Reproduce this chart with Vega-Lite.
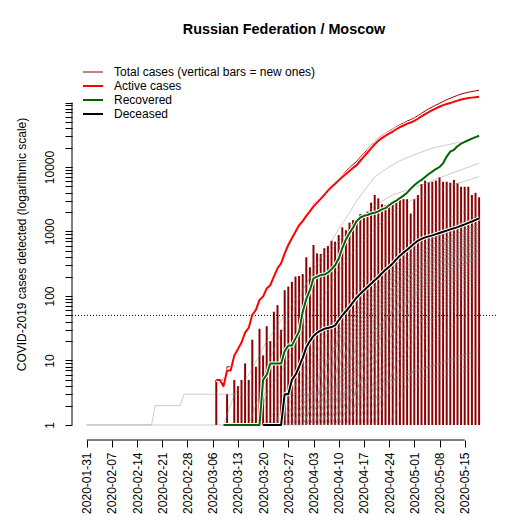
{
"$schema": "https://vega.github.io/schema/vega-lite/v6.json",
"width": 424,
"height": 392,
"autosize": {"type": "none"},
"padding": {"left": 72, "top": 48, "right": 29, "bottom": 85},
"background": "white",
"title": {"text": "Russian Federation / Moscow", "fontSize": 14.4, "fontWeight": "bold", "font": "Liberation Sans", "color": "black", "anchor": "middle", "frame": "group", "offset": 0, "baseline": "alphabetic"},
"config": {"view": {"stroke": null}, "font": "Liberation Sans"},
"datasets": {
"main": [
{"d":"2020-03-07","t":5,"a":5,"n":5},
{"d":"2020-03-08","t":5,"a":5},
{"d":"2020-03-09","t":5,"a":4,"r":1},
{"d":"2020-03-10","t":8,"a":7,"r":1,"n":3},
{"d":"2020-03-11","t":8,"a":7,"r":1},
{"d":"2020-03-12","t":13,"a":12,"r":1,"n":5},
{"d":"2020-03-13","t":16,"a":15,"r":1,"n":4},
{"d":"2020-03-14","t":20,"a":19,"r":1,"n":5},
{"d":"2020-03-15","t":28,"a":27,"r":1,"n":9},
{"d":"2020-03-16","t":33,"a":32,"r":1,"n":5},
{"d":"2020-03-17","t":52,"a":51,"r":1,"n":21},
{"d":"2020-03-18","t":62,"a":61,"r":1,"n":8},
{"d":"2020-03-19","t":88,"a":87,"r":1,"n":31},
{"d":"2020-03-20","t":104,"a":98,"r":5,"k":1,"n":12},
{"d":"2020-03-21","t":138,"a":131,"r":6,"k":1,"n":34},
{"d":"2020-03-22","t":157,"a":147,"r":9,"k":1,"n":20},
{"d":"2020-03-23","t":209,"a":199,"r":9,"k":1,"n":57},
{"d":"2020-03-24","t":279,"a":269,"r":9,"k":1,"n":72},
{"d":"2020-03-25","t":331,"a":321,"r":9,"k":1,"n":30},
{"d":"2020-03-26","t":476,"a":459,"r":14,"k":3,"n":123},
{"d":"2020-03-27","t":638,"a":617,"r":17,"k":3,"n":140},
{"d":"2020-03-28","t":807,"a":784,"r":17,"k":5,"n":166},
{"d":"2020-03-29","t":1021,"a":993,"r":22,"k":6,"n":200},
{"d":"2020-03-30","t":1286,"a":1250,"r":28,"k":8,"n":204},
{"d":"2020-03-31","t":1518,"a":1450,"r":57,"k":11,"n":219},
{"d":"2020-04-01","t":1856,"a":1750,"r":90,"k":16,"n":398},
{"d":"2020-04-02","t":2193,"a":2050,"r":123,"k":20,"n":279},
{"d":"2020-04-03","t":2662,"a":2450,"r":188,"k":24,"n":617},
{"d":"2020-04-04","t":3027,"a":2800,"r":200,"k":27,"n":458},
{"d":"2020-04-05","t":3440,"a":3200,"r":211,"k":29,"n":448},
{"d":"2020-04-06","t":3946,"a":3700,"r":215,"k":31,"n":550},
{"d":"2020-04-07","t":4562,"a":4300,"r":230,"k":32,"n":596},
{"d":"2020-04-08","t":5193,"a":4900,"r":260,"k":33,"n":720},
{"d":"2020-04-09","t":5835,"a":5500,"r":300,"k":35,"n":695},
{"d":"2020-04-10","t":6622,"a":6200,"r":380,"k":42,"n":883},
{"d":"2020-04-11","t":7600,"a":7000,"r":550,"k":50,"n":1160},
{"d":"2020-04-12","t":8608,"a":7800,"r":750,"k":58,"n":1050},
{"d":"2020-04-13","t":9718,"a":8700,"r":950,"k":68,"n":1370},
{"d":"2020-04-14","t":10930,"a":9700,"r":1150,"k":80,"n":1500},
{"d":"2020-04-15","t":12245,"a":10700,"r":1450,"k":95,"n":1545},
{"d":"2020-04-16","t":14258,"a":12500,"r":1650,"k":108,"n":1870},
{"d":"2020-04-17","t":16372,"a":14500,"r":1750,"k":122,"n":1740},
{"d":"2020-04-18","t":18738,"a":16800,"r":1800,"k":138,"n":2030},
{"d":"2020-04-19","t":21555,"a":19500,"r":1900,"k":155,"n":2800},
{"d":"2020-04-20","t":24625,"a":22500,"r":1950,"k":175,"n":3680},
{"d":"2020-04-21","t":27745,"a":25500,"r":2050,"k":195,"n":3270},
{"d":"2020-04-22","t":30425,"a":28000,"r":2200,"k":225,"n":2650},
{"d":"2020-04-23","t":33055,"a":30500,"r":2300,"k":255,"n":2560},
{"d":"2020-04-24","t":35835,"a":33000,"r":2550,"k":285,"n":2700},
{"d":"2020-04-25","t":38620,"a":35500,"r":2800,"k":320,"n":2740},
{"d":"2020-04-26","t":41870,"a":38500,"r":3000,"k":370,"n":2900},
{"d":"2020-04-27","t":45220,"a":41500,"r":3300,"k":420,"n":3090},
{"d":"2020-04-28","t":48070,"a":44000,"r":3600,"k":470,"n":3170},
{"d":"2020-04-29","t":51520,"a":47000,"r":4000,"k":520,"n":3170},
{"d":"2020-04-30","t":54180,"a":49000,"r":4600,"k":580,"n":1900},
{"d":"2020-05-01","t":57850,"a":52000,"r":5200,"k":650,"n":3170},
{"d":"2020-05-02","t":62520,"a":56000,"r":5800,"k":720,"n":3680},
{"d":"2020-05-03","t":68070,"a":61000,"r":6300,"k":770,"n":5450},
{"d":"2020-05-04","t":73810,"a":66000,"r":7000,"k":810,"n":6150},
{"d":"2020-05-05","t":79640,"a":71000,"r":7800,"k":840,"n":5770},
{"d":"2020-05-06","t":85370,"a":76000,"r":8500,"k":870,"n":5900},
{"d":"2020-05-07","t":91210,"a":81000,"r":9300,"k":910,"n":6150},
{"d":"2020-05-08","t":96950,"a":86000,"r":10000,"k":950,"n":6900},
{"d":"2020-05-09","t":103390,"a":91000,"r":11400,"k":990,"n":5900},
{"d":"2020-05-10","t":110530,"a":95000,"r":14500,"k":1030,"n":5900},
{"d":"2020-05-11","t":116380,"a":98000,"r":17300,"k":1080,"n":5710},
{"d":"2020-05-12","t":122620,"a":103000,"r":18500,"k":1120,"n":6300},
{"d":"2020-05-13","t":129170,"a":107000,"r":21000,"k":1170,"n":5590},
{"d":"2020-05-14","t":135230,"a":111000,"r":23000,"k":1230,"n":4940},
{"d":"2020-05-15","t":139790,"a":114000,"r":24500,"k":1290,"n":4940},
{"d":"2020-05-16","t":144360,"a":117000,"r":26000,"k":1360,"n":4940},
{"d":"2020-05-17","t":147930,"a":119000,"r":27500,"k":1430,"n":3680},
{"d":"2020-05-18","t":151510,"a":121000,"r":29000,"k":1510,"n":3980},
{"d":"2020-05-19","t":155100,"a":123000,"r":30500,"k":1600,"n":3390}
],
"regions": [
{"g":"E1","d":"2020-01-31","v":1},{"g":"E1","d":"2020-03-16","v":1},{"g":"E1","d":"2020-03-31","v":1},{"g":"E1","d":"2020-04-15","v":2},{"g":"E1","d":"2020-04-30","v":4},{"g":"E1","d":"2020-05-19","v":8},
{"g":"E2","d":"2020-01-31","v":1},{"g":"E2","d":"2020-02-18","v":1},{"g":"E2","d":"2020-02-19","v":2},{"g":"E2","d":"2020-02-26","v":2},{"g":"E2","d":"2020-02-27","v":3},{"g":"E2","d":"2020-04-10","v":3},{"g":"E2","d":"2020-04-25","v":5},{"g":"E2","d":"2020-05-10","v":10},{"g":"E2","d":"2020-05-19","v":14},
{"g":"MO","d":"2020-03-16","v":1},{"g":"MO","d":"2020-03-19","v":3},{"g":"MO","d":"2020-03-21","v":8},{"g":"MO","d":"2020-03-24","v":20},{"g":"MO","d":"2020-03-26","v":35},{"g":"MO","d":"2020-03-29","v":70},{"g":"MO","d":"2020-03-31","v":120},{"g":"MO","d":"2020-04-03","v":250},{"g":"MO","d":"2020-04-05","v":400},{"g":"MO","d":"2020-04-08","v":700},{"g":"MO","d":"2020-04-10","v":1100},{"g":"MO","d":"2020-04-12","v":1600},{"g":"MO","d":"2020-04-15","v":3000},{"g":"MO","d":"2020-04-18","v":5000},{"g":"MO","d":"2020-04-20","v":7000},{"g":"MO","d":"2020-04-24","v":10000},{"g":"MO","d":"2020-04-27","v":12500},{"g":"MO","d":"2020-05-01","v":15500},{"g":"MO","d":"2020-05-06","v":19600},{"g":"MO","d":"2020-05-10","v":22000},{"g":"MO","d":"2020-05-14","v":24500},{"g":"MO","d":"2020-05-19","v":28000},
{"g":"SP","d":"2020-03-09","v":1},{"g":"SP","d":"2020-03-12","v":3},{"g":"SP","d":"2020-03-16","v":6},{"g":"SP","d":"2020-03-19","v":12},{"g":"SP","d":"2020-03-21","v":20},{"g":"SP","d":"2020-03-26","v":50},{"g":"SP","d":"2020-03-31","v":130},{"g":"SP","d":"2020-04-05","v":330},{"g":"SP","d":"2020-04-10","v":700},{"g":"SP","d":"2020-04-15","v":1400},{"g":"SP","d":"2020-04-20","v":2500},{"g":"SP","d":"2020-04-25","v":3700},{"g":"SP","d":"2020-04-30","v":4600},{"g":"SP","d":"2020-05-05","v":5800},{"g":"SP","d":"2020-05-10","v":7500},{"g":"SP","d":"2020-05-15","v":9500},{"g":"SP","d":"2020-05-19","v":11400},
{"g":"NN","d":"2020-03-18","v":1},{"g":"NN","d":"2020-03-21","v":3},{"g":"NN","d":"2020-03-26","v":8},{"g":"NN","d":"2020-03-31","v":30},{"g":"NN","d":"2020-04-05","v":80},{"g":"NN","d":"2020-04-10","v":250},{"g":"NN","d":"2020-04-15","v":550},{"g":"NN","d":"2020-04-20","v":1100},{"g":"NN","d":"2020-04-25","v":2000},{"g":"NN","d":"2020-04-30","v":3000},{"g":"NN","d":"2020-05-05","v":4000},{"g":"NN","d":"2020-05-10","v":5000},{"g":"NN","d":"2020-05-15","v":6000},{"g":"NN","d":"2020-05-19","v":7100},
{"g":"h1","d":"2020-03-21","v":1},{"g":"h1","d":"2020-03-31","v":2},{"g":"h1","d":"2020-04-15","v":3},{"g":"h1","d":"2020-04-30","v":5},{"g":"h1","d":"2020-05-19","v":9},
{"g":"h2","d":"2020-03-26","v":1},{"g":"h2","d":"2020-04-05","v":2},{"g":"h2","d":"2020-04-20","v":4},{"g":"h2","d":"2020-05-05","v":8},{"g":"h2","d":"2020-05-19","v":15},
{"g":"h3","d":"2020-03-23","v":1},{"g":"h3","d":"2020-03-29","v":2},{"g":"h3","d":"2020-04-02","v":3},{"g":"h3","d":"2020-04-10","v":4},{"g":"h3","d":"2020-04-25","v":6},{"g":"h3","d":"2020-05-19","v":12},
{"g":"a","d":"2020-03-21","v":1},{"g":"a","d":"2020-04-05","v":34},{"g":"a","d":"2020-04-20","v":280},{"g":"a","d":"2020-05-04","v":1143},{"g":"a","d":"2020-05-19","v":2500},
{"g":"b","d":"2020-03-23","v":1},{"g":"b","d":"2020-04-06","v":29},{"g":"b","d":"2020-04-21","v":221},{"g":"b","d":"2020-05-05","v":851},{"g":"b","d":"2020-05-19","v":1800},
{"g":"c","d":"2020-03-24","v":1},{"g":"c","d":"2020-04-07","v":27},{"g":"c","d":"2020-04-21","v":194},{"g":"c","d":"2020-05-05","v":722},{"g":"c","d":"2020-05-19","v":1500},
{"g":"d","d":"2020-03-26","v":1},{"g":"d","d":"2020-04-09","v":25},{"g":"d","d":"2020-04-22","v":175},{"g":"d","d":"2020-05-06","v":635},{"g":"d","d":"2020-05-19","v":1300},
{"g":"e","d":"2020-03-27","v":1},{"g":"e","d":"2020-04-09","v":23},{"g":"e","d":"2020-04-23","v":155},{"g":"e","d":"2020-05-06","v":546},{"g":"e","d":"2020-05-19","v":1100},
{"g":"f","d":"2020-03-28","v":1},{"g":"f","d":"2020-04-10","v":22},{"g":"f","d":"2020-04-23","v":139},{"g":"f","d":"2020-05-06","v":479},{"g":"f","d":"2020-05-19","v":950},
{"g":"g","d":"2020-03-29","v":1},{"g":"g","d":"2020-04-11","v":28},{"g":"g","d":"2020-04-24","v":203},{"g":"g","d":"2020-05-06","v":765},{"g":"g","d":"2020-05-19","v":1600},
{"g":"h","d":"2020-03-30","v":1},{"g":"h","d":"2020-04-12","v":20},{"g":"h","d":"2020-04-24","v":123},{"g":"h","d":"2020-05-07","v":410},{"g":"h","d":"2020-05-19","v":800},
{"g":"i","d":"2020-03-31","v":1},{"g":"i","d":"2020-04-12","v":19},{"g":"i","d":"2020-04-25","v":112},{"g":"i","d":"2020-05-07","v":364},{"g":"i","d":"2020-05-19","v":700},
{"g":"j","d":"2020-03-31","v":1},{"g":"j","d":"2020-04-12","v":24},{"g":"j","d":"2020-04-25","v":165},{"g":"j","d":"2020-05-07","v":590},{"g":"j","d":"2020-05-19","v":1200},
{"g":"k","d":"2020-04-01","v":1},{"g":"k","d":"2020-04-13","v":18},{"g":"k","d":"2020-04-25","v":100},{"g":"k","d":"2020-05-07","v":316},{"g":"k","d":"2020-05-19","v":600},
{"g":"l","d":"2020-04-02","v":1},{"g":"l","d":"2020-04-14","v":21},{"g":"l","d":"2020-04-26","v":134},{"g":"l","d":"2020-05-07","v":456},{"g":"l","d":"2020-05-19","v":900},
{"g":"m","d":"2020-04-03","v":1},{"g":"m","d":"2020-04-15","v":16},{"g":"m","d":"2020-04-26","v":88},{"g":"m","d":"2020-05-08","v":269},{"g":"m","d":"2020-05-19","v":500},
{"g":"n","d":"2020-04-04","v":1},{"g":"n","d":"2020-04-15","v":18},{"g":"n","d":"2020-04-27","v":106},{"g":"n","d":"2020-05-08","v":340},{"g":"n","d":"2020-05-19","v":650},
{"g":"o","d":"2020-04-05","v":1},{"g":"o","d":"2020-04-16","v":16},{"g":"o","d":"2020-04-27","v":81},{"g":"o","d":"2020-05-08","v":244},{"g":"o","d":"2020-05-19","v":450},
{"g":"p","d":"2020-04-06","v":1},{"g":"p","d":"2020-04-17","v":14},{"g":"p","d":"2020-04-28","v":72},{"g":"p","d":"2020-05-08","v":210},{"g":"p","d":"2020-05-19","v":380},
{"g":"q","d":"2020-04-07","v":1},{"g":"q","d":"2020-04-18","v":17},{"g":"q","d":"2020-04-28","v":94},{"g":"q","d":"2020-05-09","v":292},{"g":"q","d":"2020-05-19","v":550},
{"g":"r","d":"2020-04-08","v":1},{"g":"r","d":"2020-04-18","v":13},{"g":"r","d":"2020-04-29","v":61},{"g":"r","d":"2020-05-09","v":169},{"g":"r","d":"2020-05-19","v":300},
{"g":"s","d":"2020-04-09","v":1},{"g":"s","d":"2020-04-19","v":15},{"g":"s","d":"2020-04-29","v":77},{"g":"s","d":"2020-05-09","v":230},{"g":"s","d":"2020-05-19","v":420},
{"g":"t","d":"2020-04-10","v":1},{"g":"t","d":"2020-04-20","v":12},{"g":"t","d":"2020-04-30","v":53},{"g":"t","d":"2020-05-09","v":144},{"g":"t","d":"2020-05-19","v":250},
{"g":"u","d":"2020-04-12","v":1},{"g":"u","d":"2020-04-21","v":14},{"g":"u","d":"2020-05-01","v":65},{"g":"u","d":"2020-05-10","v":185},{"g":"u","d":"2020-05-19","v":330},
{"g":"v","d":"2020-04-14","v":1},{"g":"v","d":"2020-04-23","v":11},{"g":"v","d":"2020-05-02","v":45},{"g":"v","d":"2020-05-10","v":118},{"g":"v","d":"2020-05-19","v":200},
{"g":"w","d":"2020-04-16","v":1},{"g":"w","d":"2020-04-24","v":10},{"g":"w","d":"2020-05-02","v":37},{"g":"w","d":"2020-05-11","v":91},{"g":"w","d":"2020-05-19","v":150},
{"g":"x","d":"2020-04-18","v":1},{"g":"x","d":"2020-04-26","v":9},{"g":"x","d":"2020-05-04","v":31},{"g":"x","d":"2020-05-11","v":74},{"g":"x","d":"2020-05-19","v":120},
{"g":"y","d":"2020-04-20","v":1},{"g":"y","d":"2020-04-27","v":8},{"g":"y","d":"2020-05-05","v":26},{"g":"y","d":"2020-05-12","v":57},{"g":"y","d":"2020-05-19","v":90},
{"g":"z","d":"2020-04-24","v":1},{"g":"z","d":"2020-04-30","v":6},{"g":"z","d":"2020-05-06","v":19},{"g":"z","d":"2020-05-13","v":40},{"g":"z","d":"2020-05-19","v":60},
{"g":"aa","d":"2020-03-25","v":1},{"g":"aa","d":"2020-04-08","v":22},{"g":"aa","d":"2020-04-21","v":145},{"g":"aa","d":"2020-05-05","v":501},{"g":"aa","d":"2020-05-19","v":1000},
{"g":"ab","d":"2020-03-28","v":1},{"g":"ab","d":"2020-04-10","v":19},{"g":"ab","d":"2020-04-23","v":112},{"g":"ab","d":"2020-05-06","v":364},{"g":"ab","d":"2020-05-19","v":700},
{"g":"ac","d":"2020-03-29","v":1},{"g":"ac","d":"2020-04-11","v":25},{"g":"ac","d":"2020-04-24","v":175},{"g":"ac","d":"2020-05-06","v":635},{"g":"ac","d":"2020-05-19","v":1300},
{"g":"ad","d":"2020-03-31","v":1},{"g":"ad","d":"2020-04-12","v":21},{"g":"ad","d":"2020-04-25","v":134},{"g":"ad","d":"2020-05-07","v":456},{"g":"ad","d":"2020-05-19","v":900},
{"g":"ae","d":"2020-04-01","v":1},{"g":"ae","d":"2020-04-13","v":16},{"g":"ae","d":"2020-04-25","v":88},{"g":"ae","d":"2020-05-07","v":269},{"g":"ae","d":"2020-05-19","v":500},
{"g":"af","d":"2020-04-02","v":1},{"g":"af","d":"2020-04-14","v":23},{"g":"af","d":"2020-04-26","v":155},{"g":"af","d":"2020-05-07","v":546},{"g":"af","d":"2020-05-19","v":1100},
{"g":"ag","d":"2020-04-03","v":1},{"g":"ag","d":"2020-04-15","v":20},{"g":"ag","d":"2020-04-26","v":117},{"g":"ag","d":"2020-05-08","v":387},{"g":"ag","d":"2020-05-19","v":750},
{"g":"ah","d":"2020-04-04","v":1},{"g":"ah","d":"2020-04-15","v":15},{"g":"ah","d":"2020-04-27","v":75},{"g":"ah","d":"2020-05-08","v":220},{"g":"ah","d":"2020-05-19","v":400},
{"g":"ai","d":"2020-04-05","v":1},{"g":"ai","d":"2020-04-16","v":21},{"g":"ai","d":"2020-04-27","v":129},{"g":"ai","d":"2020-05-08","v":433},{"g":"ai","d":"2020-05-19","v":850},
{"g":"aj","d":"2020-04-06","v":1},{"g":"aj","d":"2020-04-17","v":18},{"g":"aj","d":"2020-04-28","v":100},{"g":"aj","d":"2020-05-08","v":316},{"g":"aj","d":"2020-05-19","v":600},
{"g":"ak","d":"2020-04-07","v":1},{"g":"ak","d":"2020-04-18","v":14},{"g":"ak","d":"2020-04-28","v":68},{"g":"ak","d":"2020-05-09","v":195},{"g":"ak","d":"2020-05-19","v":350},
{"g":"al","d":"2020-04-08","v":1},{"g":"al","d":"2020-04-18","v":19},{"g":"al","d":"2020-04-29","v":112},{"g":"al","d":"2020-05-09","v":364},{"g":"al","d":"2020-05-19","v":700},
{"g":"am","d":"2020-04-09","v":1},{"g":"am","d":"2020-04-19","v":16},{"g":"am","d":"2020-04-29","v":85},{"g":"am","d":"2020-05-09","v":259},{"g":"am","d":"2020-05-19","v":480},
{"g":"an","d":"2020-04-10","v":1},{"g":"an","d":"2020-04-20","v":13},{"g":"an","d":"2020-04-30","v":58},{"g":"an","d":"2020-05-09","v":159},{"g":"an","d":"2020-05-19","v":280},
{"g":"ao","d":"2020-04-11","v":1},{"g":"ao","d":"2020-04-20","v":17},{"g":"ao","d":"2020-04-30","v":90},{"g":"ao","d":"2020-05-09","v":278},{"g":"ao","d":"2020-05-19","v":520},
{"g":"ap","d":"2020-04-12","v":1},{"g":"ap","d":"2020-04-21","v":11},{"g":"ap","d":"2020-05-01","v":49},{"g":"ap","d":"2020-05-10","v":128},{"g":"ap","d":"2020-05-19","v":220},
{"g":"aq","d":"2020-04-13","v":1},{"g":"aq","d":"2020-04-22","v":15},{"g":"aq","d":"2020-05-01","v":75},{"g":"aq","d":"2020-05-10","v":220},{"g":"aq","d":"2020-05-19","v":400},
{"g":"ar","d":"2020-04-15","v":1},{"g":"ar","d":"2020-04-24","v":12},{"g":"ar","d":"2020-05-02","v":55},{"g":"ar","d":"2020-05-10","v":149},{"g":"ar","d":"2020-05-19","v":260},
{"g":"as","d":"2020-04-17","v":1},{"g":"as","d":"2020-04-25","v":10},{"g":"as","d":"2020-05-03","v":42},{"g":"as","d":"2020-05-11","v":107},{"g":"as","d":"2020-05-19","v":180},
{"g":"at","d":"2020-04-19","v":1},{"g":"at","d":"2020-04-26","v":9},{"g":"at","d":"2020-05-04","v":35},{"g":"at","d":"2020-05-11","v":85},{"g":"at","d":"2020-05-19","v":140}
]
},
"layer": [
{"data": {"name": "main"},
 "mark": {"type": "rule", "stroke": "white", "strokeWidth": 3.2, "opacity": 0.5},
 "encoding": {
  "x": {"field": "d", "type": "temporal", "title": null,
        "scale": {"type": "utc", "domain": [{"year": 2020, "month": 1, "date": 26, "hours": 22, "utc": true}, {"year": 2020, "month": 5, "date": 23, "hours": 16, "minutes": 40, "utc": true}]},
        "axis": {"values": [
          {"year": 2020, "month": 1, "date": 31, "utc": true},
          {"year": 2020, "month": 2, "date": 7, "utc": true},
          {"year": 2020, "month": 2, "date": 14, "utc": true},
          {"year": 2020, "month": 2, "date": 21, "utc": true},
          {"year": 2020, "month": 2, "date": 28, "utc": true},
          {"year": 2020, "month": 3, "date": 6, "utc": true},
          {"year": 2020, "month": 3, "date": 13, "utc": true},
          {"year": 2020, "month": 3, "date": 20, "utc": true},
          {"year": 2020, "month": 3, "date": 27, "utc": true},
          {"year": 2020, "month": 4, "date": 3, "utc": true},
          {"year": 2020, "month": 4, "date": 10, "utc": true},
          {"year": 2020, "month": 4, "date": 17, "utc": true},
          {"year": 2020, "month": 4, "date": 24, "utc": true},
          {"year": 2020, "month": 5, "date": 1, "utc": true},
          {"year": 2020, "month": 5, "date": 8, "utc": true},
          {"year": 2020, "month": 5, "date": 15, "utc": true}],
          "tickCount": 100,
          "labelExpr": "utcFormat(datum.value, '%Y-%m-%d')",
          "labelAngle": 270, "labelAlign": "right", "labelBaseline": "middle",
          "labelPadding": 5, "tickSize": 7, "tickColor": "black", "domain": false, "grid": false,
          "labelFontSize": 12, "labelFont": "Liberation Sans", "labelColor": "black", "labelOverlap": false, "labelFlush": false, "labelBound": false, "title": null}},
  "y": {"field": "n", "type": "quantitative", "title": "COVID-2019 cases detected (logarithmic scale)",
        "scale": {"type": "log", "domain": [0.585, 700000], "nice": false},
        "axis": {"values": [1,2,3,4,5,6,7,8,9,10,20,30,40,50,60,70,80,90,100,200,300,400,500,600,700,800,900,1000,2000,3000,4000,5000,6000,7000,8000,9000,10000,20000,30000,40000,50000,60000,70000,80000,90000,100000],
          "tickCount": 100,
          "format": "d",
          "labelExpr": "(datum.value == 1 || datum.value == 10 || datum.value == 100 || datum.value == 1000 || datum.value == 10000) ? datum.label : ''",
          "labelAngle": 270, "labelAlign": "center", "labelBaseline": "bottom", "labelPadding": 9,
          "tickSize": 7, "tickColor": "black", "domain": false, "grid": false,
          "labelFontSize": 12, "labelFont": "Liberation Sans", "labelColor": "black", "labelOverlap": false, "labelBound": false, "labelFlush": false,
          "title": "COVID-2019 cases detected (logarithmic scale)", "titleFontSize": 12, "titleFont": "Liberation Sans", "titleFontWeight": "normal", "titleColor": "black", "titlePadding": 15}},
  "y2": {"datum": 1}}},
{"data": {"name": "main"},
 "mark": {"type": "rule", "stroke": "#8B0000", "strokeWidth": 2},
 "encoding": {
  "x": {"field": "d", "type": "temporal", "title": null},
  "y": {"field": "n", "type": "quantitative", "title": "COVID-2019 cases detected (logarithmic scale)"},
  "y2": {"datum": 1}}},
{"data": {"name": "regions"},
 "mark": {"type": "line", "stroke": "#808080", "strokeWidth": 1, "opacity": 0.4},
 "encoding": {
  "x": {"field": "d", "type": "temporal", "title": null},
  "y": {"field": "v", "type": "quantitative", "title": "COVID-2019 cases detected (logarithmic scale)"},
  "detail": {"field": "g", "type": "nominal"}}},
{"data": {"values": [{}]},
 "mark": {"type": "rule", "stroke": "black", "strokeWidth": 1, "strokeDash": [1, 2]},
 "encoding": {"y": {"datum": 50, "type": "quantitative"}}},
{"data": {"values": [{}]},
 "mark": {"type": "rule", "stroke": "black", "strokeWidth": 1},
 "encoding": {
  "x": {"datum": {"year": 2020, "month": 1, "date": 26, "hours": 22, "utc": true}, "type": "temporal"},
  "y": {"datum": 1, "type": "quantitative"},
  "y2": {"datum": 100000}}},
{"data": {"values": [{}]},
 "mark": {"type": "rule", "stroke": "black", "strokeWidth": 1},
 "encoding": {
  "x": {"datum": {"year": 2020, "month": 1, "date": 31, "utc": true}, "type": "temporal"},
  "x2": {"datum": {"year": 2020, "month": 5, "date": 15, "utc": true}},
  "y": {"datum": 0.585, "type": "quantitative"}}},
{"data": {"name": "main"},
 "mark": {"type": "line", "stroke": "white", "strokeWidth": 3, "strokeJoin": "round"},
 "encoding": {
  "x": {"field": "d", "type": "temporal", "title": null},
  "y": {"field": "t", "type": "quantitative", "title": "COVID-2019 cases detected (logarithmic scale)"}}},
{"data": {"name": "main"},
 "mark": {"type": "line", "strokeWidth": 1, "strokeJoin": "round"},
 "encoding": {
  "x": {"field": "d", "type": "temporal", "title": null},
  "y": {"field": "t", "type": "quantitative", "title": "COVID-2019 cases detected (logarithmic scale)"},
  "color": {"datum": "t", "type": "nominal",
   "scale": {"domain": ["t", "a", "r", "k"], "range": ["#8B0000", "#FF0000", "#006400", "#000000"]},
   "legend": {"orient": "none", "legendX": 15, "legendY": 18, "title": null, "direction": "vertical",
     "symbolType": "M-2,0H2", "symbolSize": 100, "symbolStrokeWidth": 2, "symbolOpacity": 1,
     "labelFontSize": 12, "labelFont": "Liberation Sans", "labelColor": "black", "labelOffset": 15, "labelLimit": 400,
     "rowPadding": 2, "padding": 0,
     "labelExpr": "datum.value == 't' ? 'Total cases (vertical bars = new ones)' : datum.value == 'a' ? 'Active cases' : datum.value == 'r' ? 'Recovered' : 'Deceased'",
     "encode": {"symbols": {"update": {"strokeWidth": {"signal": "datum.value === 't' ? 1 : 2"}}}}}}}},
{"data": {"name": "main"},
 "mark": {"type": "line", "stroke": "white", "strokeWidth": 4, "strokeJoin": "round"},
 "encoding": {
  "x": {"field": "d", "type": "temporal", "title": null},
  "y": {"field": "a", "type": "quantitative", "title": "COVID-2019 cases detected (logarithmic scale)"}}},
{"data": {"name": "main"},
 "mark": {"type": "line", "strokeWidth": 2, "strokeJoin": "round"},
 "encoding": {
  "x": {"field": "d", "type": "temporal", "title": null},
  "y": {"field": "a", "type": "quantitative", "title": "COVID-2019 cases detected (logarithmic scale)"},
  "color": {"datum": "a", "type": "nominal"}}},
{"data": {"name": "main"},
 "mark": {"type": "line", "stroke": "white", "strokeWidth": 4, "strokeJoin": "round"},
 "encoding": {
  "x": {"field": "d", "type": "temporal", "title": null},
  "y": {"field": "r", "type": "quantitative", "title": "COVID-2019 cases detected (logarithmic scale)"}}},
{"data": {"name": "main"},
 "mark": {"type": "line", "strokeWidth": 2, "strokeJoin": "round"},
 "encoding": {
  "x": {"field": "d", "type": "temporal", "title": null},
  "y": {"field": "r", "type": "quantitative", "title": "COVID-2019 cases detected (logarithmic scale)"},
  "color": {"datum": "r", "type": "nominal"}}},
{"data": {"name": "main"},
 "mark": {"type": "line", "stroke": "white", "strokeWidth": 4, "strokeJoin": "round"},
 "encoding": {
  "x": {"field": "d", "type": "temporal", "title": null},
  "y": {"field": "k", "type": "quantitative", "title": "COVID-2019 cases detected (logarithmic scale)"}}},
{"data": {"name": "main"},
 "mark": {"type": "line", "strokeWidth": 2, "strokeJoin": "round"},
 "encoding": {
  "x": {"field": "d", "type": "temporal", "title": null},
  "y": {"field": "k", "type": "quantitative", "title": "COVID-2019 cases detected (logarithmic scale)"},
  "color": {"datum": "k", "type": "nominal"}}}
]
}
